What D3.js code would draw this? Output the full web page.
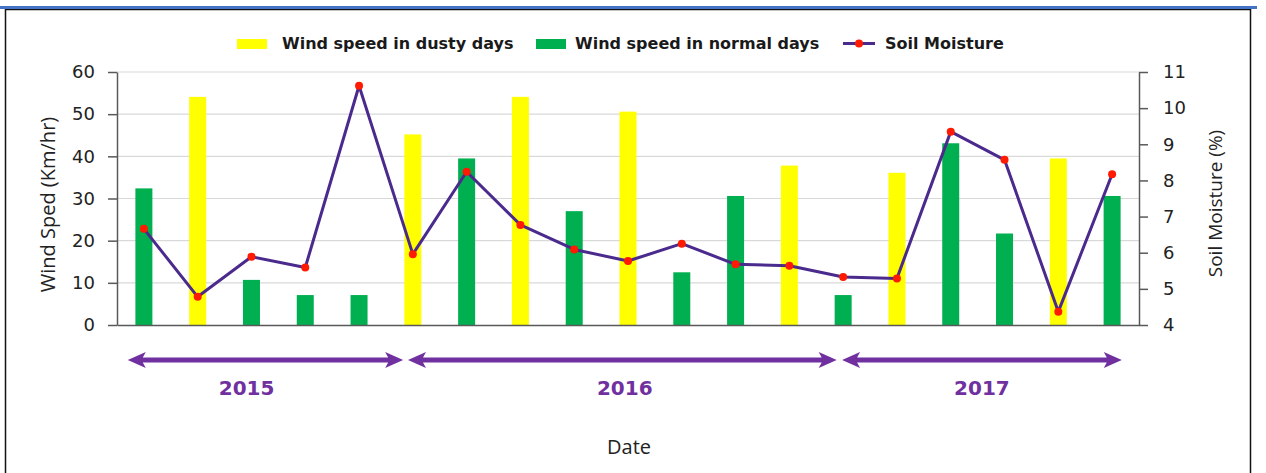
<!DOCTYPE html>
<html>
<head>
<meta charset="utf-8">
<script src="https://cdn.jsdelivr.net/npm/d3@7"></script>
<style>
  html, body { margin: 0; padding: 0; background: #fff; }
  svg { display: block; }
</style>
</head>
<body>
<svg id="chart" width="1266" height="473"></svg>
<script>
// sampling dates (19 of them, 2015 - 2017), no tick labels on the axis
const samples = ["s1","s2","s3","s4","s5","s6","s7","s8","s9","s10",
                 "s11","s12","s13","s14","s15","s16","s17","s18","s19"];

// wind speed (km/hr), a sample is either a dusty day or a normal day
const dustyWind  = [null, 54.1, null, null, null, 45.2, null, 54.1, null, 50.6,
                    null, null, 37.8, null, 36.1, null, null, 39.5, null];
const normalWind = [32.4, null, 10.7, 7.1, 7.1, null, 39.5, null, 27.0, null,
                    12.5, 30.6, null, 7.1, null, 43.1, 21.7, null, 30.6];

// soil moisture (%)
const soilMoisture = [6.66, 4.78, 5.89, 5.59, 10.62, 5.96, 8.24, 6.77, 6.09, 5.77,
                      6.25, 5.68, 5.64, 5.33, 5.29, 9.35, 8.57, 4.37, 8.17];

const leftTicks = [0, 10, 20, 30, 40, 50, 60];
const rightTicks = [4, 5, 6, 7, 8, 9, 10, 11];

// year arrows, in units of sample index
const years = ["2015", "2016", "2017"];
const yearFrom = [-0.30, 4.91, 12.98];
const yearTo = [4.82, 12.88, 18.18];
const yearLabelAt = [1.91, 8.94, 15.58];

const svg = d3.select("#chart");
const tickFont = "'DejaVu Sans', sans-serif";
const titleFont = "'Open Sans', sans-serif";

let plot = {left: 117, right: 1139, top: 72, bottom: 325};

/// frame ///
svg.append("rect")
    .attr("x", 5.5).attr("y", 9.5)
    .attr("width", 1245).attr("height", 480)
    .attr("fill", "#fff")
    .attr("stroke", "#111")
    .attr("stroke-width", 1.5);

svg.append("line")
    .attr("x1", 0).attr("x2", 1257)
    .attr("y1", 7.5).attr("y2", 7.5)
    .attr("stroke", "#4472C4")
    .attr("stroke-width", 3);

/// scales ///
let xScale = d3.scaleBand()
    .domain(samples)
    .range([plot.left, plot.right])
    .paddingInner(0.684)
    .paddingOuter(0.342);

let yLeft = d3.scaleLinear().domain([0, 60]).range([plot.bottom, plot.top]);
let yRight = d3.scaleLinear().domain([4, 11]).range([plot.bottom, plot.top]);

const cx = i => xScale(samples[i]) + xScale.bandwidth() / 2;
let idxScale = d3.scaleLinear().domain([0, samples.length - 1]).range([cx(0), cx(samples.length - 1)]);

/// grid ///
svg.append("g")
    .selectAll("line")
    .data(leftTicks.filter(t => t > 0))
    .enter()
    .append("line")
    .attr("x1", plot.left).attr("x2", plot.right)
    .attr("y1", d => yLeft(d)).attr("y2", d => yLeft(d))
    .attr("stroke", "#d9d9d9")
    .attr("stroke-width", 1.2);

/// bars ///
svg.append("g")
    .selectAll("rect")
    .data(dustyWind.map((v, i) => ({i, v})).filter(d => d.v != null))
    .enter()
    .append("rect")
    .attr("x", d => xScale(samples[d.i]))
    .attr("width", xScale.bandwidth())
    .attr("y", d => yLeft(d.v))
    .attr("height", d => yLeft(0) - yLeft(d.v))
    .attr("fill", "#FFFF00");

svg.append("g")
    .selectAll("rect")
    .data(normalWind.map((v, i) => ({i, v})).filter(d => d.v != null))
    .enter()
    .append("rect")
    .attr("x", d => xScale(samples[d.i]))
    .attr("width", xScale.bandwidth())
    .attr("y", d => yLeft(d.v))
    .attr("height", d => yLeft(0) - yLeft(d.v))
    .attr("fill", "#00B050");

/// axes ///
let leftAxis = svg.append("g")
    .attr("transform", `translate(${plot.left},0)`)
    .call(d3.axisLeft(yLeft).tickValues(leftTicks).tickSize(9).tickSizeOuter(0).tickPadding(13));

let rightAxis = svg.append("g")
    .attr("transform", `translate(${plot.right},0)`)
    .call(d3.axisRight(yRight).tickValues(rightTicks).tickFormat(d3.format("d"))
        .tickSize(9).tickSizeOuter(0).tickPadding(15));

let bottomAxis = svg.append("g")
    .attr("transform", `translate(0,${plot.bottom})`)
    .call(d3.axisBottom(xScale).tickSize(0).tickFormat(""));

[leftAxis, rightAxis, bottomAxis].forEach(a => {
    a.selectAll("path, line").attr("stroke", "#595959").attr("stroke-width", 1.5);
    a.selectAll("text")
        .attr("fill", "#222")
        .style("font-family", tickFont)
        .style("font-size", "18px");
});

/// soil moisture line ///
let line = d3.line()
    .x((d, i) => cx(i))
    .y(d => yRight(d));

svg.append("path")
    .datum(soilMoisture)
    .attr("d", line)
    .attr("fill", "none")
    .attr("stroke", "#4B2A8E")
    .attr("stroke-width", 3)
    .attr("stroke-linejoin", "round");

svg.append("g")
    .selectAll("circle")
    .data(soilMoisture)
    .enter()
    .append("circle")
    .attr("cx", (d, i) => cx(i))
    .attr("cy", d => yRight(d))
    .attr("r", 4)
    .attr("fill", "#FF1A00");

/// axis titles ///
svg.append("text")
    .attr("transform", `translate(55,${(plot.top + plot.bottom) / 2 + 6}) rotate(-90)`)
    .attr("text-anchor", "middle")
    .style("font-family", titleFont)
    .style("font-size", "20px")
    .attr("fill", "#222")
    .text("Wind Sped (Km/hr)");

svg.append("text")
    .attr("transform", `translate(1222,${(plot.top + plot.bottom) / 2 + 5}) rotate(-90)`)
    .attr("text-anchor", "middle")
    .style("font-family", titleFont)
    .style("font-size", "19px")
    .attr("fill", "#222")
    .text("Soil Moisture (%)");

svg.append("text")
    .attr("x", 629).attr("y", 454)
    .attr("text-anchor", "middle")
    .style("font-family", titleFont)
    .style("font-size", "20px")
    .attr("fill", "#222")
    .text("Date");

/// legend ///
let legend = svg.append("g").style("font-family", tickFont).style("font-size", "16px").style("font-weight", "bold");

legend.append("rect").attr("x", 237).attr("y", 39).attr("width", 30).attr("height", 10).attr("fill", "#FFFF00");
legend.append("text").attr("x", 282).attr("y", 49).attr("fill", "#1a1a1a").text("Wind speed in dusty days");

legend.append("rect").attr("x", 536).attr("y", 39).attr("width", 30).attr("height", 10).attr("fill", "#00B050");
legend.append("text").attr("x", 575).attr("y", 49).attr("fill", "#1a1a1a").text("Wind speed in normal days");

legend.append("line").attr("x1", 843).attr("x2", 875).attr("y1", 43.5).attr("y2", 43.5)
    .attr("stroke", "#4B2A8E").attr("stroke-width", 3);
legend.append("circle").attr("cx", 859).attr("cy", 43.5).attr("r", 4).attr("fill", "#FF1A00");
legend.append("text").attr("x", 885).attr("y", 49).attr("fill", "#1a1a1a").text("Soil Moisture");

/// year arrows ///
const arrowY = 360, headLen = 18, headHalf = 8, shaft = 2.6;
let arrows = svg.append("g");

years.forEach((yr, k) => {
    let x0 = idxScale(yearFrom[k]);
    let x1 = idxScale(yearTo[k]);
    arrows.append("path")
        .attr("d", `M${x0},${arrowY}` +
            `L${x0 + headLen},${arrowY - headHalf}` +
            `L${x0 + headLen - 3},${arrowY - shaft}` +
            `L${x1 - headLen + 3},${arrowY - shaft}` +
            `L${x1 - headLen},${arrowY - headHalf}` +
            `L${x1},${arrowY}` +
            `L${x1 - headLen},${arrowY + headHalf}` +
            `L${x1 - headLen + 3},${arrowY + shaft}` +
            `L${x0 + headLen - 3},${arrowY + shaft}` +
            `L${x0 + headLen},${arrowY + headHalf}Z`)
        .attr("fill", "#7030A0");

    arrows.append("text")
        .attr("x", idxScale(yearLabelAt[k]))
        .attr("y", 395)
        .attr("text-anchor", "middle")
        .style("font-family", tickFont)
        .style("font-weight", "bold")
        .style("font-size", "20px")
        .attr("fill", "#7030A0")
        .text(yr);
});
</script>
</body>
</html>
